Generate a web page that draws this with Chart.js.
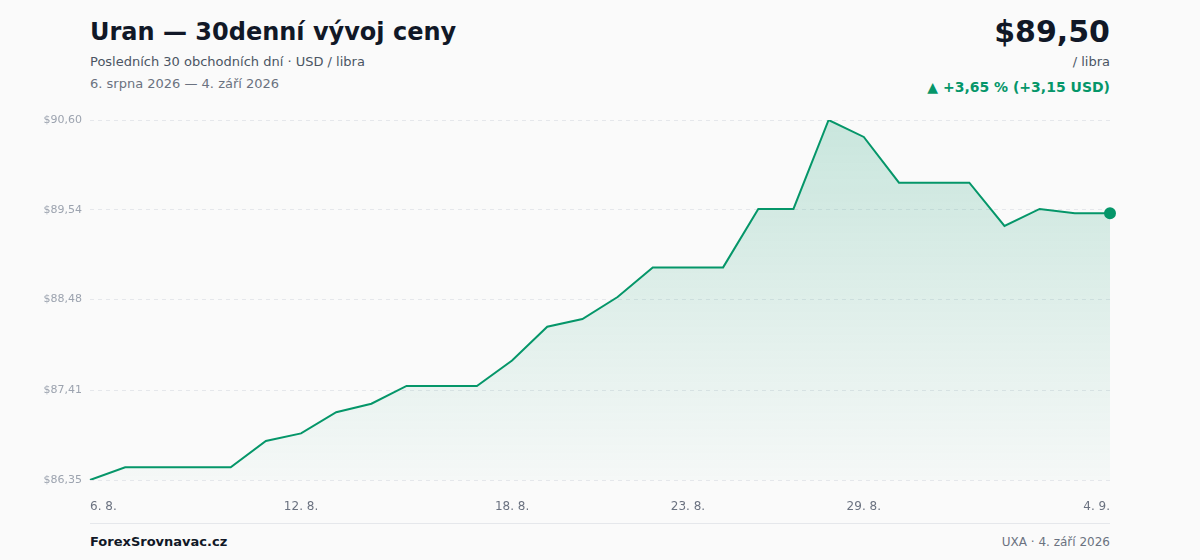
<!DOCTYPE html>
<html><head><meta charset="utf-8">
<script src="https://cdn.jsdelivr.net/npm/chart.js@4"></script>
<style>
body{margin:0;width:1200px;height:560px;background:#fafafa;font-family:"DejaVu Sans",sans-serif;position:relative;overflow:hidden}
.t{position:absolute;left:90px;top:18px;font-size:24px;font-weight:bold;color:#111827}
.s1{position:absolute;left:90px;top:54px;font-size:13px;color:#4b5563}
.s2{position:absolute;left:90px;top:76px;font-size:13px;color:#6b7280}
.p{position:absolute;right:90px;top:14px;font-size:30px;font-weight:bold;color:#111827}
.u{position:absolute;right:90px;top:54px;font-size:13px;color:#4b5563}
.c{position:absolute;right:90px;top:79px;font-size:14px;font-weight:bold;color:#059669}
.line{position:absolute;left:90px;width:1020px;top:523px;border-top:1px solid #e5e7eb}
.fl{position:absolute;left:90px;top:534px;font-size:13px;font-weight:bold;color:#111827}
.fr{position:absolute;right:90px;top:535px;font-size:12px;color:#6b7280}
#w{position:absolute;left:30px;top:100px;width:1100px;height:420px}
</style></head><body>
<div class="t">Uran — 30denní vývoj ceny</div>
<div class="s1">Posledních 30 obchodních dní · USD / libra</div>
<div class="s2">6. srpna 2026 — 4. září 2026</div>
<div class="p">$89,50</div>
<div class="u">/ libra</div>
<div class="c">▲ +3,65 % (+3,15 USD)</div>
<div id="w"><canvas id="ch"></canvas></div>
<div class="line"></div>
<div class="fl">ForexSrovnavac.cz</div>
<div class="fr">UXA · 4. září 2026</div>
<script>
const labels=["6. 8.","","","","","","12. 8.","","","","","","18. 8.","","","","","23. 8.","","","","","29. 8.","","","","","","","4. 9."];
const prices=[86.35,86.50,86.50,86.50,86.50,86.81,86.90,87.15,87.25,87.46,87.46,87.46,87.76,88.16,88.25,88.51,88.86,88.86,88.86,89.55,89.55,90.60,90.40,89.86,89.86,89.86,89.35,89.55,89.50,89.50];
const yTicks=[86.35,87.41,88.48,89.54,90.60];
const ctx=document.getElementById('ch');
new Chart(ctx,{type:'line',data:{labels,datasets:[{data:prices,borderColor:'#059669',borderWidth:2,tension:0,fill:true,
backgroundColor:c=>{const a=c.chart.chartArea;if(!a)return 'rgba(5,150,105,0.1)';const g=c.chart.ctx.createLinearGradient(0,a.top,0,a.bottom);g.addColorStop(0,'rgba(5,150,105,0.2)');g.addColorStop(1,'rgba(5,150,105,0.02)');return g;},
pointRadius:prices.map((v,i)=>i===prices.length-1?5:0),pointBackgroundColor:'#059669',pointBorderColor:'#059669'}]},
options:{responsive:true,maintainAspectRatio:false,animation:false,layout:{padding:{top:20,right:20}},
plugins:{legend:{display:false},tooltip:{enabled:false}},
scales:{x:{offset:false,grid:{display:false},border:{display:false},afterFit:s=>{s.height=40},
ticks:{autoSkip:false,maxRotation:0,align:'inner',color:'#6b7280',font:{size:12,family:'DejaVu Sans'},padding:12}},
y:{min:86.35,max:90.60,afterFit:s=>{s.width=60},afterBuildTicks:s=>{s.ticks=yTicks.map(v=>({value:v}))},
border:{display:false,dash:[4,4]},grid:{color:'#e5e7eb',drawTicks:false},
ticks:{color:'#9ca3af',font:{size:11,family:'DejaVu Sans'},padding:8,callback:v=>'$'+v.toFixed(2).replace('.',',')}}}}});
</script></body></html>
